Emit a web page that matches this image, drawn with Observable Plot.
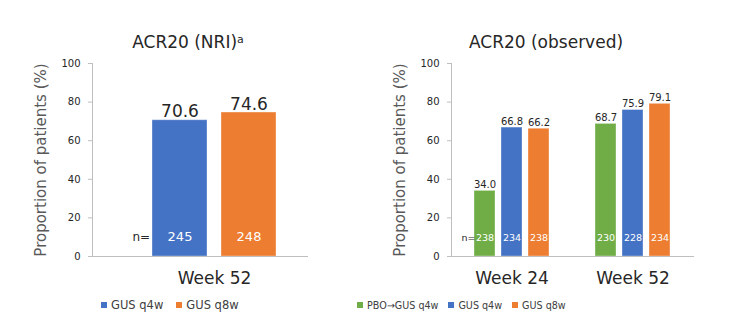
<!DOCTYPE html>
<html><head><meta charset="utf-8">
<script src="https://cdn.jsdelivr.net/npm/d3@7"></script>
<script src="https://cdn.jsdelivr.net/npm/@observablehq/plot@0.6"></script>
<style>
body{margin:0;background:#fff;}
#root{position:relative;width:736px;height:336px;overflow:hidden;font-family:"DejaVu Sans";}
.title{position:absolute;top:32px;width:220px;text-align:center;font-size:17px;line-height:20px;color:#262626;white-space:nowrap;}
.title sup{font-size:11px;vertical-align:5px;line-height:0;}
.panel{position:absolute;top:50px;}
.legend{position:absolute;top:297px;height:16px;display:flex;align-items:center;font-family:"DejaVu Sans";color:#404040;white-space:nowrap;}
.legend .item{display:flex;align-items:center;}
.legend .sw{display:inline-block;width:6px;height:6px;margin-right:4px;}
</style></head><body><div id="root"></div>
<script>
// ---- data ----
const nriTitle = "ACR20 (NRI)";
const nriWeeks = ["Week 52"];
const nriGroups = ["GUS q4w", "GUS q8w"];
const nriValues = [70.6, 74.6];
const nriN = [245, 248];

const obsTitle = "ACR20 (observed)";
const obsWeeks = ["Week 24", "Week 52"];
const obsGroups = ["PBO→GUS q4w", "GUS q4w", "GUS q8w"];
const obsWeek24Values = [34.0, 66.8, 66.2];
const obsWeek52Values = [68.7, 75.9, 79.1];
const obsWeek24N = [238, 234, 238];
const obsWeek52N = [230, 228, 234];

const yTicks = [0, 20, 40, 60, 80, 100];
const yLabel = "Proportion of patients (%)";
const groupColors = {"PBO→GUS q4w": "#70AD47", "GUS q4w": "#4472C4", "GUS q8w": "#ED7D31"};

// ---- tables ----
const nriRows = nriGroups.map((g, i) => ({week: nriWeeks[0], group: g, value: nriValues[i], n: nriN[i]}));
const obsRows = [
  ...obsGroups.map((g, i) => ({week: obsWeeks[0], group: g, value: obsWeek24Values[i], n: obsWeek24N[i]})),
  ...obsGroups.map((g, i) => ({week: obsWeeks[1], group: g, value: obsWeek52Values[i], n: obsWeek52N[i]}))
];

function panel(o) {
  const nLabelRows = [{week: o.weeks[0]}];
  return Plot.plot({
    width: 368, height: 250,
    marginTop: 13, marginBottom: 44, marginLeft: o.marginLeft, marginRight: o.marginRight,
    style: {fontFamily: "DejaVu Sans", background: "transparent", overflow: "visible"},
    fx: {domain: o.weeks, label: null, padding: 0},
    x: {domain: o.groups, axis: null, ...o.xScale},
    y: {domain: [0, 100], label: null},
    color: {domain: o.groups, range: o.groups.map(g => groupColors[g])},
    marks: [
      Plot.barY(o.rows, {fx: "week", x: "group", y: "value", fill: "group", stroke: "white", strokeOpacity: 0.35, strokeWidth: 1}),
      Plot.frame({anchor: "bottom", facet: "super", stroke: "#bfbfbf"}),
      Plot.frame({anchor: "left", facet: "super", stroke: "#bfbfbf"}),
      Plot.axisY({ticks: yTicks, tickSize: 4, tickPadding: 8, fontSize: 10, stroke: "#bfbfbf", fill: "#262626", label: null}),
      Plot.axisY({ticks: [], label: yLabel, labelAnchor: "center", labelOffset: 57, labelArrow: "none", fontSize: 15, fill: "#595959"}),
      Plot.axisFx({anchor: "bottom", tickSize: 0, tickPadding: 15, fontSize: 17, fill: "#262626", label: null, dx: o.weekDx}),
      Plot.text(o.rows, {fx: "week", x: "group", y: "value", text: d => d.value.toFixed(1), lineAnchor: "bottom", dy: -3, fontSize: o.valueSize, fill: "#262626"}),
      Plot.text(o.rows, {fx: "week", x: "group", text: d => String(d.n), frameAnchor: "bottom", dy: -16, fill: "white", fontSize: o.nSize}),
      Plot.text(nLabelRows, {fx: "week", text: () => "n=", frameAnchor: "bottom-left", dx: o.nLabelDx, dy: -16, fontSize: o.nLabelSize, fill: "#262626"})
    ]
  });
}

const root = document.getElementById("root");

function addTitle(text, sup, left) {
  const t = document.createElement("div");
  t.className = "title";
  t.style.left = left + "px";
  t.textContent = text;
  if (sup) { const s = document.createElement("sup"); s.textContent = sup; t.appendChild(s); }
  root.appendChild(t);
}
function addLegend(groups, left, size, gap) {
  const lg = document.createElement("div");
  lg.className = "legend";
  lg.style.left = left + "px";
  lg.style.fontSize = size + "px";
  lg.style.gap = gap + "px";
  groups.forEach(g => {
    const it = document.createElement("div"); it.className = "item";
    const sw = document.createElement("span"); sw.className = "sw"; sw.style.background = groupColors[g];
    const tx = document.createElement("span"); tx.textContent = g;
    it.appendChild(sw); it.appendChild(tx); lg.appendChild(it);
  });
  root.appendChild(lg);
}

addTitle(nriTitle, "a", 78);
addTitle(obsTitle, null, 436);

const left = panel({
  rows: nriRows, weeks: nriWeeks, groups: nriGroups,
  marginLeft: 92, marginRight: 61,
  xScale: {paddingInner: 0.203, paddingOuter: 0.659, align: 0.659},
  valueSize: 17, nSize: 13, nLabelDx: 40, nLabelSize: 12, weekDx: 14.5
});
left.classList.add("panel"); left.style.left = "0px";
root.appendChild(left);

const right = panel({
  rows: obsRows, weeks: obsWeeks, groups: obsGroups,
  marginLeft: 83, marginRight: 43,
  xScale: {paddingInner: 0.236, paddingOuter: 0.82},
  valueSize: 10, nSize: 9.5, nLabelDx: 10, nLabelSize: 9.5, weekDx: 0
});
right.classList.add("panel"); right.style.left = "368px";
root.appendChild(right);

addLegend(nriGroups, 101, 11.5, 13);
addLegend(obsGroups, 357, 9.6, 10);
</script></body></html>
